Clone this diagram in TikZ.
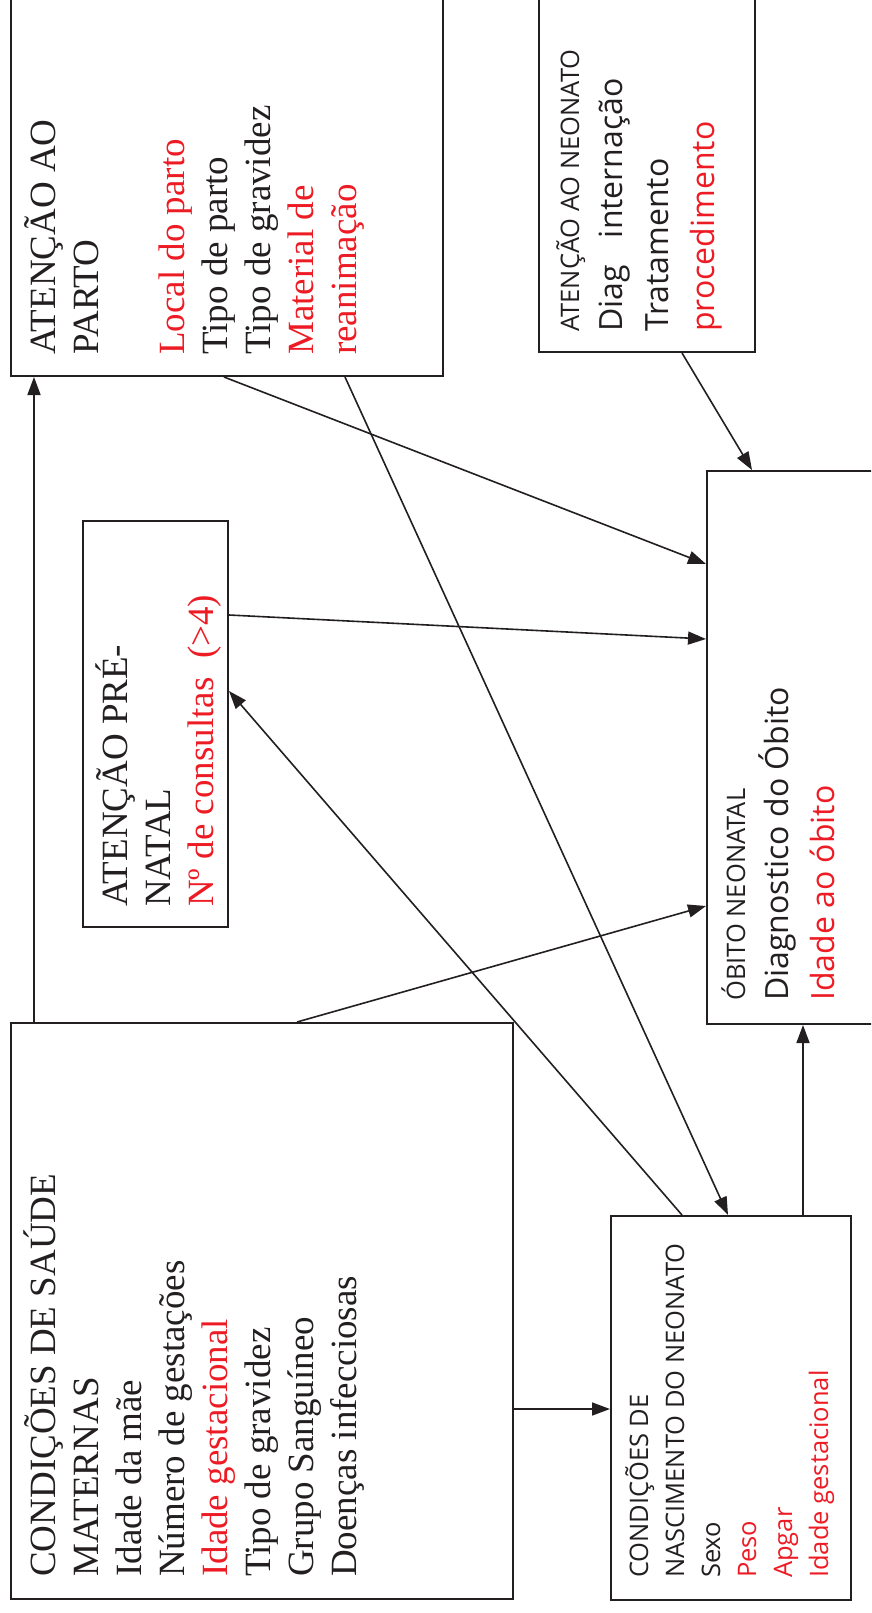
\documentclass[tikz,border=0pt]{standalone}
\usepackage{fontspec}
\setmainfont{Liberation Serif}
\newfontfamily\sansfnt{Open Sans}
\usetikzlibrary{arrows.meta}
\definecolor{cRed}{RGB}{237,28,36}
\definecolor{cInk}{RGB}{35,31,32}

\begin{document}
\begin{tikzpicture}[x=1pt, y=-1pt,
            box/.style={draw=cInk, line width=2pt, inner sep=0pt, anchor=south west},
            serif/.style={rotate=90, inner sep=0pt, align=left, anchor=base west, text=cInk, font=\fontsize{37}{43}\selectfont},
            sans/.style={rotate=90, inner sep=0pt, align=left, anchor=base west, text=cInk, font=\sansfnt\fontsize{32}{46}\selectfont},
            small/.style={sans, font=\sansfnt\fontsize{25.5}{36}\selectfont},
            link/.style={draw=cInk, line width=1.6pt, -{Triangle[length=18pt, width=13pt]}}]
            \useasboundingbox (0,0) rectangle (871,1613);
            \clip (0,0) rectangle (871,1613);
            \node[box, minimum width=432pt, minimum height=400pt] (parto)      at (10,377)  {};
            \node[box, minimum width=216pt, minimum height=380pt] (neonato)    at (538,353) {};
            \node[box, minimum width=145pt, minimum height=406pt] (prenatal)   at (82,928)  {};
            \node[box, minimum width=200pt, minimum height=553pt] (obito)      at (706,1025) {};
            \node[box, minimum width=502pt, minimum height=576pt] (maternas)   at (10,1600) {};
            \node[box, minimum width=240pt, minimum height=384pt] (nascimento) at (610,1601) {};
            \node[serif] (partotxt) at (356,355) {ATENÇÃO AO\\PARTO\\[43pt]
              \textcolor{cRed}{Local do parto}\\Tipo de parto\\Tipo de gravidez\\
              \textcolor{cRed}{Material de}\\\textcolor{cRed}{reanimação}};
            \node[sans] (neonatotxt) at (714,332) {{\fontsize{25.5}{36}\selectfont ATENÇÃO AO NEONATO}\\[-3pt]
              Diag\hspace{27pt}internação\\Tratamento\\\textcolor{cRed}{procedimento}};
            \node[serif] (prenataltxt) at (213,907) {ATENÇÃO PRÉ-\\NATAL\\
              \textcolor{cRed}{Nº de consultas\ \ (>4)}};
            \node[sans] (obitotxt) at (834,1001) {{\fontsize{25.5}{36}\selectfont ÓBITO NEONATAL}\\[-3pt]
              Diagnostico do Óbito\\\textcolor{cRed}{Idade ao óbito}};
            \node[serif] (maternastxt) at (356,1577) {CONDIÇÕES DE SAÚDE\\MATERNAS\\Idade da mãe\\
              Número de gestações\\\textcolor{cRed}{Idade gestacional}\\Tipo de gravidez\\
              Grupo Sanguíneo\\Doenças infecciosas};
            \node[small] (nascimentotxt) at (828,1578) {CONDIÇÕES DE\\NASCIMENTO DO NEONATO\\Sexo\\
              \textcolor{cRed}{Peso}\\\textcolor{cRed}{Apgar}\\\textcolor{cRed}{Idade gestacional}};
            \draw[link] ([xshift=24pt]maternas.north west) -- ([xshift=24pt]parto.south west);
            \draw[link] ([xshift=287pt]maternas.north west) -- ([yshift=119pt]obito.south west);
            \draw[link] ([yshift=191pt]maternas.south east) -- ([yshift=191pt]maternas.south east -| nascimento.west);
            \draw[link] ([xshift=214pt]parto.south west) -- ([yshift=-94pt]obito.north west);
            \draw[link] ([xshift=335pt]parto.south west) -- ([xshift=118pt]nascimento.north west);
            \draw[link] ([yshift=-95pt]prenatal.north east) -- ([yshift=-169pt]obito.north west);
            \draw[link] ([xshift=72pt]nascimento.north west) -- ([yshift=-171pt]prenatal.north east);
            \draw[link] ([xshift=193pt]nascimento.north west) -- ([xshift=97pt]obito.south west);
            \draw[link] ([xshift=144pt]neonato.south west) -- ([xshift=46pt]obito.north west);
        \end{tikzpicture}
\end{document}
